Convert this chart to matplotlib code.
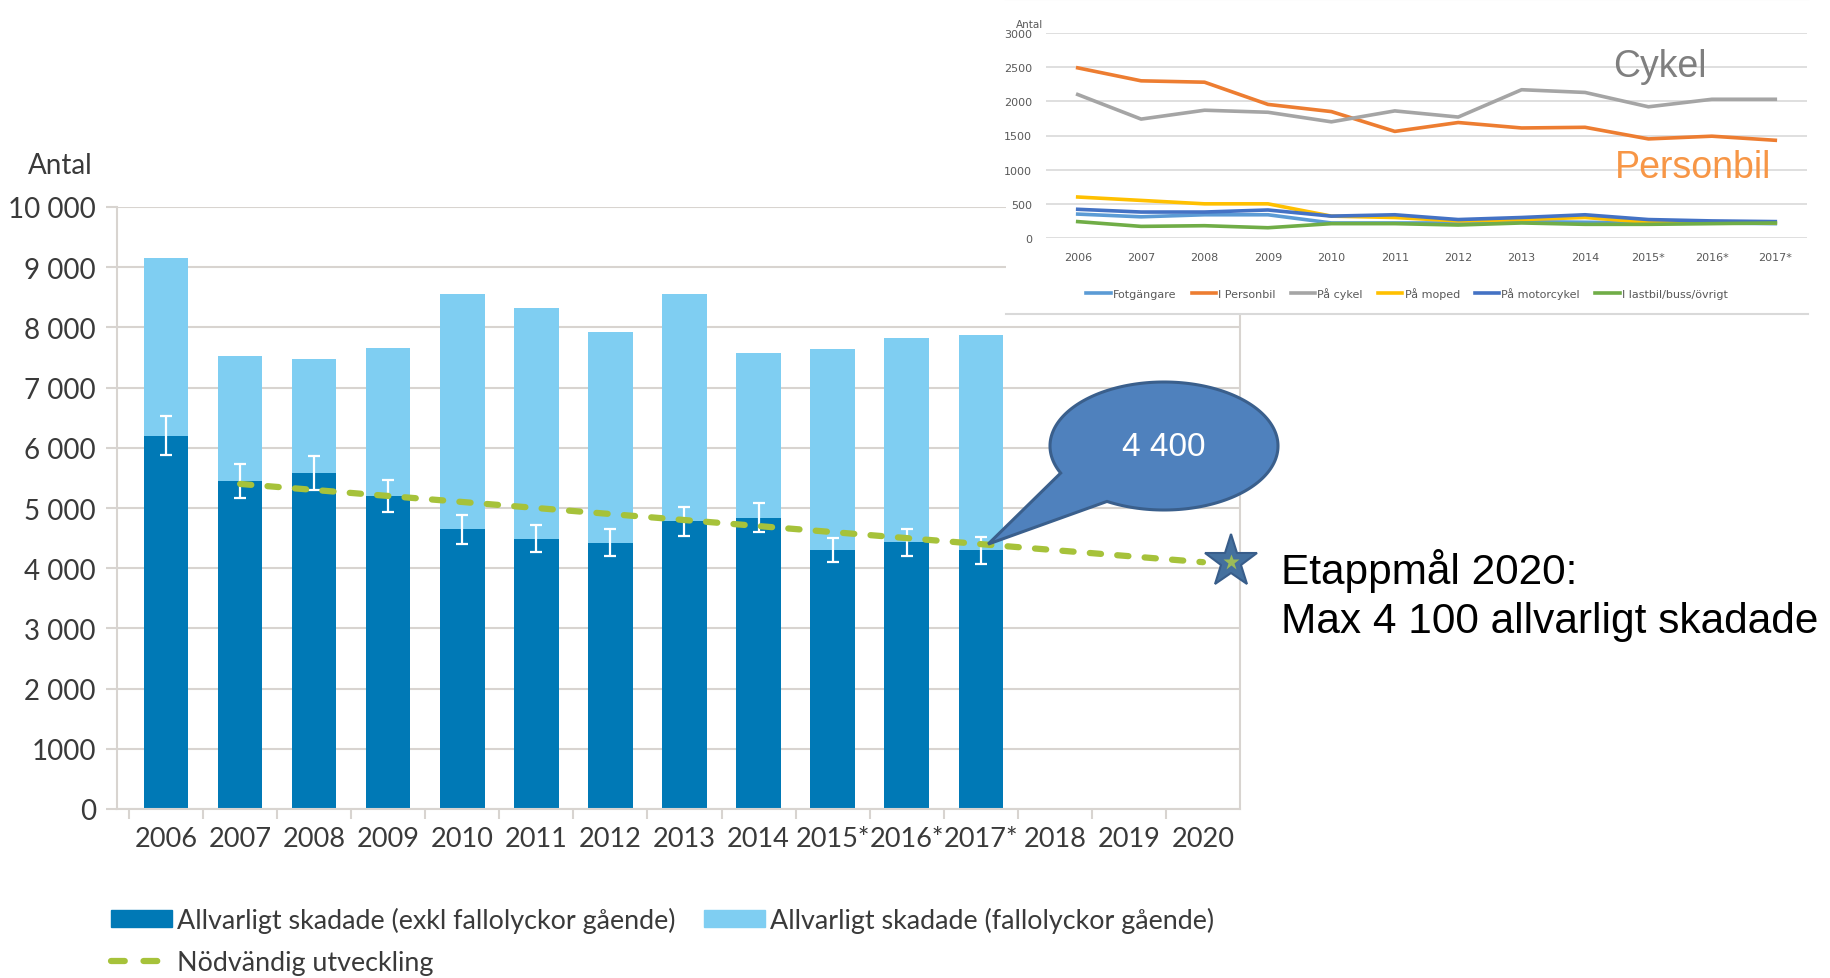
import numpy as np
import matplotlib
matplotlib.use("Agg")
import matplotlib.pyplot as plt
from matplotlib.patches import Patch, Polygon
from matplotlib.lines import Line2D

W, H = 1831, 979

# main chart data
years = ["2006", "2007", "2008", "2009", "2010", "2011", "2012", "2013", "2014",
         "2015*", "2016*", "2017*", "2018", "2019", "2020"]
total = [9150, 7530, 7470, 7660, 8550, 8330, 7920, 8550, 7570, 7640, 7820, 7880]
exkl_fall = [6200, 5450, 5580, 5200, 4650, 4490, 4420, 4780, 4840, 4300, 4430, 4300]
err = [320, 280, 280, 270, 240, 225, 225, 240, 245, 205, 225, 225]
need_years = ["2007", "2008", "2009", "2010", "2011", "2012", "2013", "2014",
              "2015*", "2016*", "2017*", "2018", "2019", "2020"]
need = [5400, 5300, 5200, 5100, 5000, 4900, 4800, 4700, 4600, 4500, 4400, 4300, 4200, 4100]
goal_2020 = 4100
callout_value = 4400

# inset data
in_years = ["2006", "2007", "2008", "2009", "2010", "2011", "2012", "2013", "2014",
            "2015*", "2016*", "2017*"]
fotgangare = [350, 310, 340, 340, 220, 220, 220, 240, 230, 220, 220, 210]
personbil = [2490, 2300, 2280, 1955, 1850, 1560, 1690, 1610, 1620, 1450, 1490, 1430]
cykel = [2100, 1740, 1870, 1840, 1700, 1860, 1770, 2170, 2130, 1920, 2030, 2030]
moped = [600, 550, 500, 500, 320, 300, 250, 270, 300, 230, 220, 220]
motorcykel = [420, 380, 380, 410, 320, 340, 270, 300, 340, 270, 250, 240]
lastbil = [240, 170, 180, 150, 210, 210, 190, 220, 200, 200, 210, 220]

DARK = "#0079B6"
LIGHT = "#7FCEF2"
GREEN = "#A6C23A"
GRID = "#D8D4D0"
TXT = "#3A3A3A"

fig = plt.figure(figsize=(W / 100, H / 100), dpi=100)
fig.patch.set_facecolor("white")

# ---------------- main chart ----------------
ax = fig.add_axes([116.7 / W, 1 - 810 / H, (1240 - 116.7) / W, (810 - 208) / H], zorder=1)
x = np.arange(len(total))
light = np.array(total) - np.array(exkl_fall)
ax.bar(x, exkl_fall, width=0.6, color=DARK, zorder=2)
ax.bar(x, light, bottom=exkl_fall, width=0.6, color=LIGHT, zorder=2)
ax.errorbar(x, exkl_fall, yerr=err, fmt="none", ecolor="white", elinewidth=1.6,
            capsize=4, capthick=1.6, zorder=3)
xn = np.array([years.index(y) for y in need_years])
ax.plot(xn, need, color=GREEN, lw=4.5, dashes=(1.8, 2.6), dash_capstyle="round", zorder=4)
ax.plot([14.38], [goal_2020], marker="*", ms=40, color="#44709E", mec="#385D8A",
        mew=1.5, clip_on=False, zorder=6)
ax.plot([14.38], [goal_2020], marker="*", ms=12, color="#9BBB59", mec="none",
        clip_on=False, zorder=7)

ax.set_xlim(-0.666, 14.5)
ax.set_ylim(0, 10000)
yt = np.arange(0, 10001, 1000)
ax.set_yticks(yt)
ax.set_yticklabels(["0", "1000", "2 000", "3 000", "4 000", "5 000", "6 000",
                    "7 000", "8 000", "9 000", "10 000"])
ax.set_xticks(x.tolist() + [12, 13, 14])
ax.set_xticklabels(years)
ax.set_xticks(np.arange(-0.5, 14.5, 1), minor=True)
ax.tick_params(axis="x", which="major", length=0, pad=12, labelsize=19.5, labelcolor=TXT)
ax.tick_params(axis="x", which="minor", length=7, width=1.5, color=GRID)
ax.tick_params(axis="y", length=8, width=1.5, color=GRID, pad=7, labelsize=20, labelcolor=TXT)
for lab in ax.get_xticklabels() + ax.get_yticklabels():
    lab.set_fontfamily("Lato")
ax.grid(axis="y", color=GRID, lw=1.5, zorder=0)
ax.set_axisbelow(True)
ax.spines["top"].set_visible(False)
for s in ["left", "bottom", "right"]:
    ax.spines[s].set_color(GRID)
    ax.spines[s].set_linewidth(1.5)

fig.text(60 / W, 1 - 174 / H, "Antal", ha="center", va="baseline", fontsize=20,
         color=TXT, family="Lato")

handles = [Patch(color=DARK),
           Line2D([], [], color=GREEN, lw=4.5, dashes=(2.2, 3.0), dash_capstyle="round"),
           Patch(color=LIGHT)]
labels = ["Allvarligt skadade (exkl fallolyckor gående)", "Nödvändig utveckling",
          "Allvarligt skadade (fallolyckor gående)"]
fig.legend(handles, labels, loc="upper left", bbox_to_anchor=(111 / W, 1 - 908 / H),
           ncol=2, frameon=False, borderpad=0, borderaxespad=0, handlelength=2.26,
           handleheight=0.56, handletextpad=0.2, columnspacing=1.05, labelspacing=0.62,
           prop={"family": "Lato", "size": 19.4}, labelcolor=TXT)

# goal text
fig.text(1281 / W, 1 - 584 / H, "Etappmål 2020:", fontsize=30.5, family="Liberation Sans",
         color="black", va="baseline", ha="left")
fig.text(1281 / W, 1 - 633 / H, "Max 4 100 allvarligt skadade", fontsize=30.5,
         family="Liberation Sans", color="black", va="baseline", ha="left")

# ---------------- inset panel ----------------
panel = fig.add_axes([1006 / W, 1 - 315 / H, 802 / W, 315 / H], zorder=3)
panel.set_xticks([])
panel.set_yticks([])
panel.set_facecolor("white")
for s in ["left", "right"]:
    panel.spines[s].set_visible(False)
for s in ["top", "bottom"]:
    panel.spines[s].set_color("#D9D9D9")
    panel.spines[s].set_linewidth(1.5)

ax2 = fig.add_axes([1046 / W, 1 - 239 / H, 761 / W, 205 / H], zorder=4)
ax2.patch.set_alpha(0)
xi = np.arange(len(in_years))
series = [(fotgangare, "#5B9BD5", "Fotgängare"), (personbil, "#ED7D31", "I Personbil"),
          (cykel, "#A5A5A5", "På cykel"), (moped, "#FFC000", "På moped"),
          (motorcykel, "#4472C4", "På motorcykel"), (lastbil, "#70AD47", "I lastbil/buss/övrigt")]
for vals, col, name in series:
    ax2.plot(xi, vals, color=col, lw=2.6, label=name, solid_joinstyle="round")
ax2.set_xlim(-0.5, 11.5)
ax2.set_ylim(0, 3000)
ax2.set_yticks(np.arange(0, 3001, 500))
ax2.set_xticks(xi)
ax2.set_xticklabels(in_years)
ax2.tick_params(length=0, labelsize=8, labelcolor="#595959", pad=10)
ax2.grid(axis="y", color="#D9D9D9", lw=1.2)
for s in ax2.spines.values():
    s.set_visible(False)
fig.text(1016 / W, 1 - 28 / H, "Antal", fontsize=7.5, color="#595959", ha="left", va="baseline")
ax2.text(8.45, 2520, "Cykel", fontsize=27, color="#7F7F7F", family="Liberation Sans",
         va="center", ha="left")
ax2.text(8.47, 1040, "Personbil", fontsize=27, color="#F79646", family="Liberation Sans",
         va="center", ha="left")
lg = fig.legend(*ax2.get_legend_handles_labels(), loc="center", ncol=6,
                bbox_to_anchor=(1407 / W, 1 - 294 / H), frameon=False, fontsize=8,
                handlelength=2.2, handletextpad=0.2, columnspacing=1.35, labelcolor="#595959")
lg.set_zorder(8)

# ---------------- callout bubble ----------------
ov = fig.add_axes([0, 0, 1, 1], zorder=6)
ov.set_xlim(0, W)
ov.set_ylim(0, H)
ov.axis("off")
ov.patch.set_alpha(0)
tip = ax.transData.transform((11.1, callout_value))
cx, cy, a, b = 1164, H - 447, 114, 64
th = np.radians(np.linspace(240, 205 + 360, 200))
pts = np.column_stack([cx + a * np.cos(th), cy + b * np.sin(th)])
pts = np.vstack([pts, tip])
ov.add_patch(Polygon(pts, closed=True, facecolor="#4F81BD", edgecolor="#3A5F8C", lw=2.2))
ov.text(cx, cy, "4 400", color="white", fontsize=24, ha="center", va="center",
        family="Liberation Sans")

fig.savefig("out.png", dpi=100)
